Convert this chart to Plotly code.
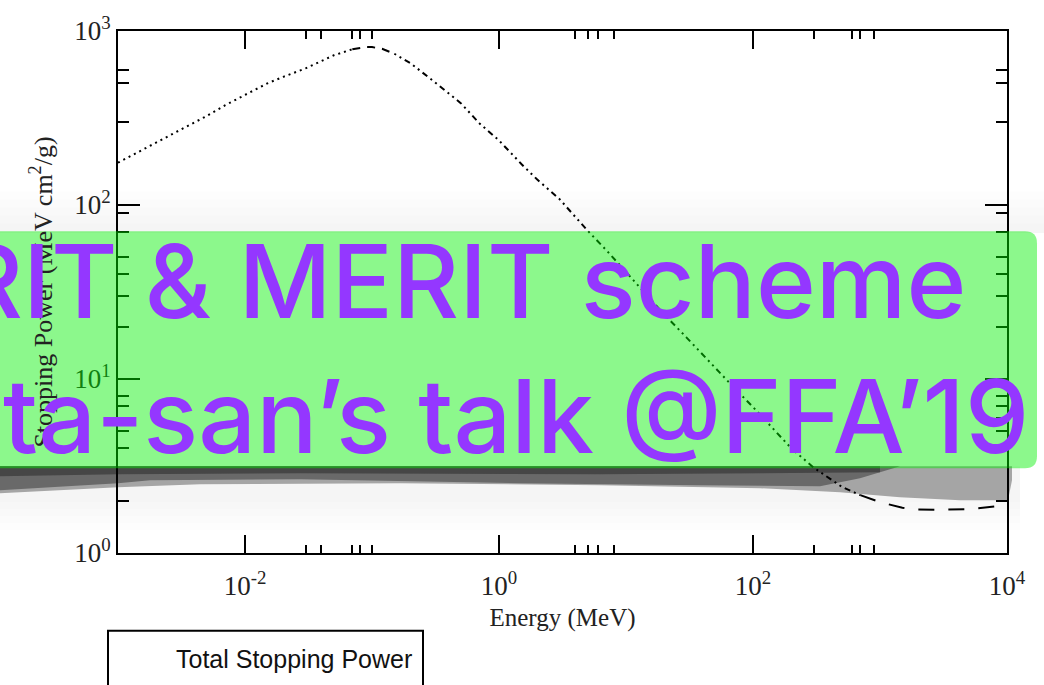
import plotly.graph_objects as go

# Total stopping power of protons (MeV cm^2/g) versus kinetic energy (MeV)
energy_mev = [0.001, 0.002, 0.003, 0.005, 0.007, 0.01, 0.015, 0.02, 0.03, 0.05,
              0.07, 0.09, 0.1, 0.12, 0.15, 0.2, 0.3, 0.5, 0.7, 1.0,
              1.5, 2.0, 3.0, 5.0, 7.0, 10.0, 15.0, 20.0, 30.0, 50.0,
              70.0, 100.0, 150.0, 200.0, 300.0, 500.0, 700.0, 1000.0, 1500.0, 2000.0,
              3000.0, 5000.0, 7000.0, 10000.0]
stopping_power = [175, 228, 265, 325, 375, 430, 500, 545, 610, 725,
                  785, 810, 808, 790, 740, 655, 520, 385, 295, 235,
                  172, 140, 108, 71, 55, 41, 29.5, 23.5, 17.3, 11.6,
                  9.0, 6.9, 5.0, 4.0, 3.1, 2.4, 2.15, 1.96, 1.82, 1.78,
                  1.77, 1.79, 1.83, 1.88]

x_major_vals = [1e-2, 1, 1e2, 1e4]
x_major_text = ["10<sup>-2</sup>", "10<sup>0</sup>", "10<sup>2</sup>", "10<sup>4</sup>"]
x_minor_vals = [0.03, 0.04, 0.07, 0.08, 0.1, 4, 5, 6, 8, 300, 600, 700, 900]
y_major_vals = [1, 10, 100, 1000]
y_major_text = ["10<sup>0</sup>", "10<sup>1</sup>", "10<sup>2</sup>", "10<sup>3</sup>"]
y_minor_vals = [2, 4, 5, 6, 7, 8, 20, 30, 40, 50, 70, 90, 300, 500, 600]

legend_label = "Total Stopping Power"
banner_lines = ["RIT & MERIT scheme", "ta-san’s talk @FFA’19"]

W, H = 1044, 685
L, R, T, B = 118, 37, 29, 132


def px(x):
    return (x - L) / (W - L - R)


def py(y):
    return (H - B - y) / (H - T - B)


fig = go.Figure()

# the curve is stroked with a pattern that changes along its length
segments = [
    (0.001, 0.07, "2px,4px"),
    (0.07, 0.15, "8px,7px"),
    (0.15, 700.0, "2px,4px,2px,4px,6px,4px"),
    (700.0, 10000.0, "16px,14px"),
]
for lo, hi, dash in segments:
    xs = [e for e in energy_mev if lo <= e <= hi]
    ys = [s for e, s in zip(energy_mev, stopping_power) if lo <= e <= hi]
    fig.add_trace(go.Scatter(
        x=xs, y=ys, mode="lines", name=legend_label, showlegend=False,
        line=dict(color="black", width=2, dash=dash),
    ))

axis_common = dict(
    type="log", showgrid=False, zeroline=False,
    showline=True, linecolor="black", linewidth=2, mirror="ticks",
    ticks="inside", tickcolor="black", tickwidth=2,
    tickfont=dict(family="Liberation Serif", size=27, color="#222"),
)

fig.update_xaxes(
    **axis_common, range=[-3, 4], ticklen=18, ticklabelstandoff=8,
    tickmode="array", tickvals=x_major_vals, ticktext=x_major_text,
    minor=dict(tickmode="array", tickvals=x_minor_vals, ticks="inside",
               ticklen=8, tickwidth=2, tickcolor="black"),
    title=dict(text="Energy (MeV)", standoff=8,
               font=dict(family="Liberation Serif", size=25, color="#222")),
)
fig.update_yaxes(
    **axis_common, range=[0, 3], ticklen=22,
    tickmode="array", tickvals=y_major_vals, ticktext=y_major_text,
    minor=dict(tickmode="array", tickvals=y_minor_vals, ticks="inside",
               ticklen=11, tickwidth=2, tickcolor="black"),
    title=dict(text="Stopping Power (MeV cm<sup>2</sup>/g)", standoff=14,
               font=dict(family="Liberation Serif", size=26, color="#222")),
)


def poly(points):
    return "M " + " L ".join(f"{px(x):.5f},{py(y):.5f}" for x, y in points) + " Z"


shapes = []

# soft haze around the banner
for k in range(5):
    shapes.append(dict(type="rect", xref="paper", yref="paper", layer="below",
                       x0=px(-10), x1=px(W + 10), y0=py(190 + k * 8), y1=py(232),
                       fillcolor="black", opacity=0.007, line=dict(width=0)))
    shapes.append(dict(type="rect", xref="paper", yref="paper", layer="below",
                       x0=px(-10), x1=px(1020), y0=py(466), y1=py(530 - k * 7),
                       fillcolor="black", opacity=0.007, line=dict(width=0)))

# shadow under the banner
shapes.append(dict(type="path", xref="paper", yref="paper", layer="below",
                   path=poly([(-10, 466), (1012, 466), (1012, 480), (1008, 500),
                              (960, 500), (900, 497), (840, 492), (760, 488),
                              (600, 485), (400, 483), (200, 484), (118, 487),
                              (0, 493), (-10, 493)]),
                   fillcolor="rgb(165,165,165)", line=dict(width=0)))
shapes.append(dict(type="path", xref="paper", yref="paper", layer="below",
                   path=poly([(-10, 466), (900, 466), (860, 478), (820, 486),
                              (700, 485), (520, 483), (300, 479), (150, 480),
                              (118, 483), (0, 490), (-10, 490)]),
                   fillcolor="rgb(105,105,105)", line=dict(width=0)))
shapes.append(dict(type="path", xref="paper", yref="paper", layer="below",
                   path=poly([(-10, 466), (880, 466), (880, 472), (600, 474),
                              (300, 473), (118, 474), (-10, 476)]),
                   fillcolor="rgb(70,70,70)", line=dict(width=0)))

# translucent banner with rounded right corners
bx0, bx1, by0, by1, rr = -10, 1037, 230, 468, 12
banner_path = (
    f"M {px(bx0):.5f},{py(by0):.5f} L {px(bx1 - rr):.5f},{py(by0):.5f} "
    f"Q {px(bx1):.5f},{py(by0):.5f} {px(bx1):.5f},{py(by0 + rr):.5f} "
    f"L {px(bx1):.5f},{py(by1 - rr):.5f} "
    f"Q {px(bx1):.5f},{py(by1):.5f} {px(bx1 - rr):.5f},{py(by1):.5f} "
    f"L {px(bx0):.5f},{py(by1):.5f} Z"
)
shapes.append(dict(type="path", xref="paper", yref="paper", layer="above",
                   path=banner_path, fillcolor="rgb(0,240,0)", opacity=0.45,
                   line=dict(width=0)))

# legend frame
shapes.append(dict(type="rect", xref="paper", yref="paper", layer="above",
                   x0=px(108), x1=px(423), y0=py(700), y1=py(631),
                   fillcolor="white", line=dict(color="black", width=2)))

banner_font = dict(family="Inter", size=102, weight=500, color="#9437FF")
annotations = [
    dict(xref="paper", yref="paper", x=px(414), y=py(659), xanchor="right",
         yanchor="middle", text=legend_label, showarrow=False,
         font=dict(family="Liberation Sans", size=25, color="#111")),
    dict(xref="paper", yref="paper", x=px(968), y=py(280), xanchor="right",
         yanchor="middle", text=banner_lines[0], showarrow=False,
         font=banner_font),
    dict(xref="paper", yref="paper", x=px(1031), y=py(415), xanchor="right",
         yanchor="middle", text=banner_lines[1], showarrow=False,
         font=banner_font),
]

fig.update_layout(
    width=W, height=H, margin=dict(l=L, r=R, t=T, b=B),
    paper_bgcolor="white", plot_bgcolor="rgba(0,0,0,0)",
    shapes=shapes, annotations=annotations, showlegend=False,
)

fig.write_html("out.html")
